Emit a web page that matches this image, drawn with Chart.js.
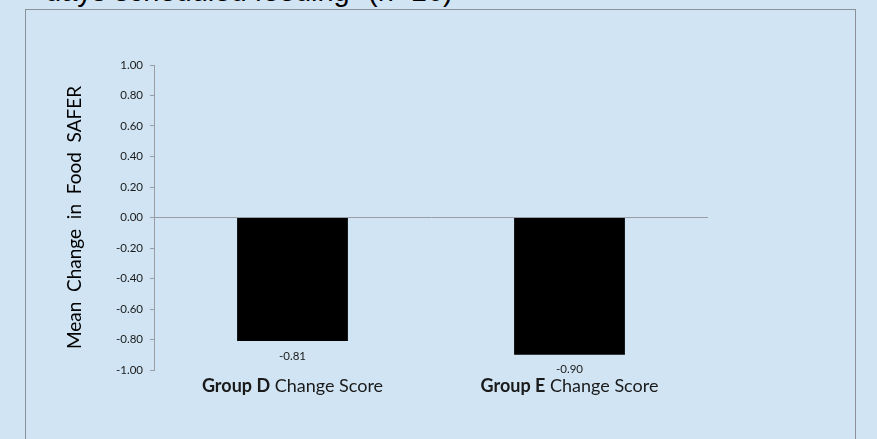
<!DOCTYPE html>
<html>
<head>
<meta charset="utf-8">
<script src="https://cdn.jsdelivr.net/npm/chart.js@4"></script>
<style>
  html, body { margin: 0; padding: 0; }
  body { width: 877px; height: 439px; background: #d0e4f3; position: relative; overflow: hidden; }
  #frame { position: absolute; left: 25px; top: 9px; width: 829px; height: 460px; border: 1px solid #8c9198; }
  #head { position: absolute; left: 45px; top: -25px; font: 29px "Liberation Sans", Arial, sans-serif; color: #000; white-space: nowrap; }
  #wrap { position: absolute; left: 0; top: 0; width: 877px; height: 439px; }
</style>
</head>
<body>
<div id="frame"></div>
<div id="head">days scheduled feeding" (n=16)</div>
<div id="wrap"><canvas id="grafica" width="877" height="439"></canvas></div>
<script>
const grupos = ['Group D', 'Group E']
const sufijo = ' Change Score'
const cambios = [-0.81, -0.90]
const yMin = -1
const yMax = 1
const yPaso = 0.2

// etiquetas del eje x (parte en negrita) y valores debajo de cada barra
const textos = {
    id: 'textos',
    afterDatasetsDraw(chart) {
        const ctx = chart.ctx
        const x = chart.scales.x
        const meta = chart.getDatasetMeta(0)
        ctx.save()
        ctx.fillStyle = '#1a1a1a'
        ctx.textBaseline = 'middle'
        meta.data.forEach((barra, i) => {
            ctx.font = '11.5px Lato'
            ctx.textAlign = 'center'
            ctx.fillText(cambios[i].toFixed(2), barra.x, barra.y + 15)
        })
        grupos.forEach((g, i) => {
            const cx = x.getPixelForValue(i)
            ctx.font = 'bold 18px Lato'
            const w1 = ctx.measureText(g).width
            ctx.font = '18px Lato'
            const w2 = ctx.measureText(sufijo).width
            const x0 = cx - (w1 + w2) / 2
            ctx.textAlign = 'left'
            ctx.font = 'bold 18px Lato'
            ctx.fillText(g, x0, 386)
            ctx.font = '18px Lato'
            ctx.fillText(sufijo, x0 + w1, 386)
        })
        ctx.restore()
    }
}

new Chart(document.querySelector('#grafica'), {
    type: 'bar',
    data: {
        labels: grupos,
        datasets: [{
            data: cambios,
            backgroundColor: '#000000',
            barPercentage: 0.4,
            categoryPercentage: 1
        }]
    },
    options: {
        responsive: false,
        animation: false,
        devicePixelRatio: 1,
        layout: { padding: { top: 65, right: 169, left: 0, bottom: 0 } },
        plugins: { legend: { display: false }, tooltip: { enabled: false } },
        scales: {
            x: {
                ticks: { display: false },
                grid: { display: false },
                border: { display: false },
                afterFit: s => { s.height = 69 }
            },
            y: {
                min: yMin,
                max: yMax,
                afterFit: s => { s.width = 154 },
                ticks: {
                    stepSize: yPaso,
                    padding: 7,
                    color: '#1a1a1a',
                    font: { family: 'Lato', size: 11.5 },
                    callback: v => v.toFixed(2)
                },
                grid: {
                    color: c => (c.tick && Math.abs(c.tick.value) < 1e-9) ? '#9a9ea4' : 'rgba(0,0,0,0)',
                    tickColor: '#9a9ea4',
                    tickLength: 4,
                    lineWidth: 1
                },
                border: { display: true, color: '#9a9ea4' },
                title: {
                    display: true,
                    text: 'Mean  Change  in  Food  SAFER',
                    color: '#000',
                    font: { family: 'Lato', size: 19 },
                    padding: { top: 63, bottom: 0 }
                }
            }
        }
    },
    plugins: [textos]
})
</script>
</body>
</html>
